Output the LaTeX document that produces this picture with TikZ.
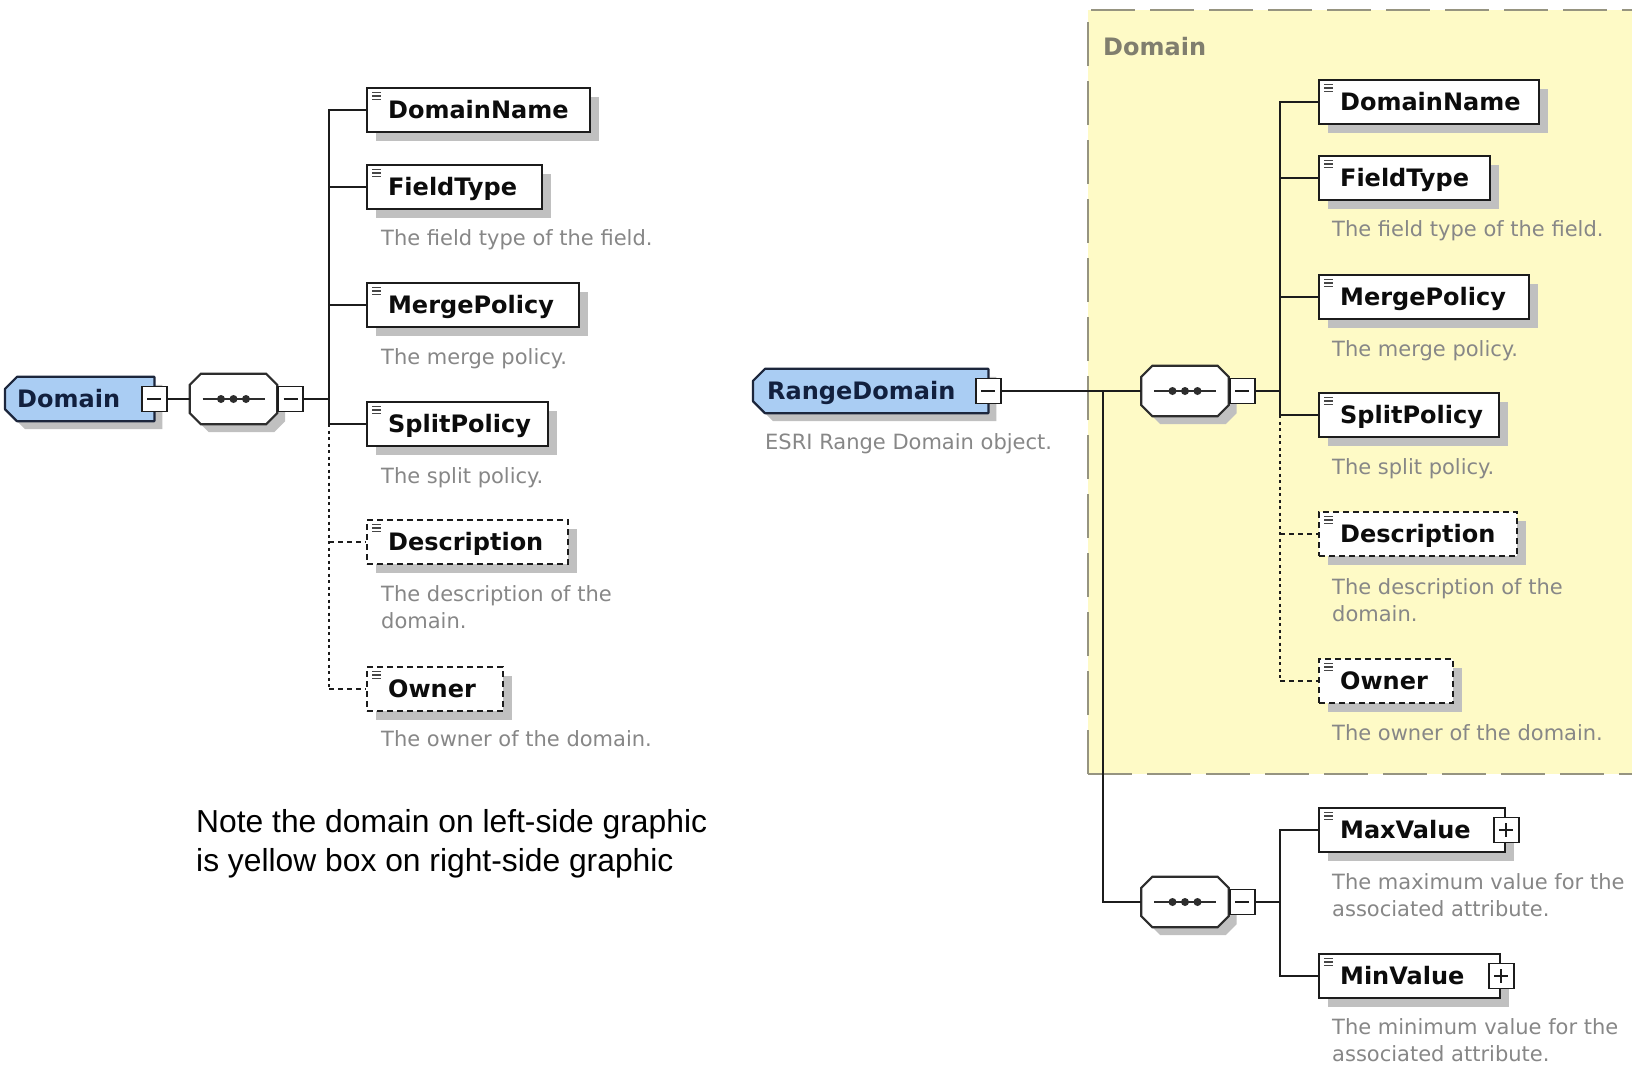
\documentclass[tikz,border=0pt]{standalone}
\usepackage{fontspec}
\newfontfamily\uifont{DejaVu Sans}
\newfontfamily\notefont{Liberation Sans}
\usetikzlibrary{calc,shadows}
\pgfdeclarelayer{panel}
\pgfdeclarelayer{shade}
\pgfdeclarelayer{back}
\pgfsetlayers{panel,shade,back,main}

\definecolor{inkline}{RGB}{28,28,28}
\definecolor{labelink}{RGB}{12,12,12}
\definecolor{iconink}{RGB}{70,70,70}
\definecolor{seqink}{RGB}{45,45,45}
\definecolor{shadowgray}{RGB}{192,192,192}
\definecolor{topfill}{RGB}{170,205,243}
\definecolor{topline}{RGB}{28,38,60}
\definecolor{toptext}{RGB}{18,32,62}
\definecolor{desctext}{RGB}{135,135,135}
\definecolor{panelfill}{RGB}{254,250,198}
\definecolor{paneledge}{RGB}{150,148,128}
\definecolor{paneltitle}{RGB}{128,126,110}

% label text set left-aligned in a box of fixed width
\newcommand\boxlabel[3][21]{\makebox[#2pt][l]{\hspace{#1pt}#3}}

\tikzset{
  lblfont/.style={font=\uifont\bfseries\fontsize{24}{28}\selectfont},
  elem/.style={rectangle, draw=inkline, fill=white, line width=2.2pt, inner sep=0pt,
    minimum height=44pt, text height=22.5pt, text depth=5pt, lblfont, text=labelink,
    anchor=west, general shadow={fill=shadowgray, draw=none, shadow xshift=9pt, shadow yshift=-9pt}},
  optelem/.style={elem, dash pattern=on 6pt off 4pt},
  topelem/.style={rectangle, draw=none, inner sep=0pt, minimum height=44pt,
    text height=22.5pt, text depth=5pt, lblfont, text=toptext, anchor=west},
  seqholder/.style={rectangle, draw=none, inner sep=0pt, minimum width=87pt, minimum height=50pt},
  toggle/.style={rectangle, draw=inkline, fill=white, line width=1.8pt, inner sep=0pt, minimum size=25pt},
  desc/.style={font=\uifont\fontsize{21}{27}\selectfont, text=desctext, inner sep=0pt,
    anchor=base west, align=left},
  conn/.style={draw=inkline, line width=2.2pt},
  dotconn/.style={conn, line width=2.6pt, dash pattern=on 3pt off 3.5pt},
  dashconn/.style={conn, dash pattern=on 5pt off 4pt},
}

% minus and plus marks inside a toggle box
\newcommand\minusmark[1]{\draw[inkline, line width=1.6pt] ($(#1.center)+(-7,0)$) -- ($(#1.center)+(7,0)$);}
\newcommand\plusmark[1]{\minusmark{#1}\draw[inkline, line width=1.6pt] ($(#1.center)+(0,-7)$) -- ($(#1.center)+(0,7)$);}

% small list icon in the top left corner of an element box
\newcommand\elemicon[1]{\foreach \k in {0,1,2}{\draw[iconink, line width=1.3pt] ($(#1.north west)+(6,5.5+3.5*\k)$) -- ++(9,0);}}

% top-level element: box with cut corners on the left
\newcommand\cutleft[1]{%
  \begin{pgfonlayer}{shade}
    \fill[shadowgray, transform canvas={shift={(8pt,-8pt)}}]
      ($(#1.north west)+(12,0)$) -- (#1.north east) -- (#1.south east) -- ($(#1.south west)+(12,0)$)
      -- ($(#1.south west)+(0,-12)$) -- ($(#1.north west)+(0,12)$) -- cycle;
  \end{pgfonlayer}
  \begin{pgfonlayer}{back}
    \filldraw[fill=topfill, draw=topline, line width=2.2pt, line join=round]
      ($(#1.north west)+(12,0)$) -- (#1.north east) -- (#1.south east) -- ($(#1.south west)+(12,0)$)
      -- ($(#1.south west)+(0,-12)$) -- ($(#1.north west)+(0,12)$) -- cycle;
  \end{pgfonlayer}}

% sequence compositor: octagon with a line of three dots
\newcommand\seqshape[1]{%
  \begin{pgfonlayer}{shade}
    \fill[shadowgray, transform canvas={shift={(8pt,-8pt)}}]
      ($(#1.north west)+(11,0)$) -- ($(#1.north east)+(-11,0)$) -- ($(#1.north east)+(0,11)$)
      -- ($(#1.south east)+(0,-11)$) -- ($(#1.south east)+(-11,0)$) -- ($(#1.south west)+(11,0)$)
      -- ($(#1.south west)+(0,-11)$) -- ($(#1.north west)+(0,11)$) -- cycle;
  \end{pgfonlayer}
  \begin{pgfonlayer}{back}
    \filldraw[fill=white, draw=seqink, line width=2.2pt]
      ($(#1.north west)+(11,0)$) -- ($(#1.north east)+(-11,0)$) -- ($(#1.north east)+(0,11)$)
      -- ($(#1.south east)+(0,-11)$) -- ($(#1.south east)+(-11,0)$) -- ($(#1.south west)+(11,0)$)
      -- ($(#1.south west)+(0,-11)$) -- ($(#1.north west)+(0,11)$) -- cycle;
  \end{pgfonlayer}
  \draw[seqink, line width=2pt] ($(#1.center)+(-31,0)$) -- ($(#1.center)+(31,0)$);
  \foreach \k in {-12.5,0,12.5}{\fill[seqink] ($(#1.center)+(\k,0)$) circle[radius=4pt];}}

\begin{document}
\begin{tikzpicture}[x=1pt,y=-1pt]
\useasboundingbox (0,0) rectangle (1632,1066);

% page and the yellow Domain panel
\begin{pgfonlayer}{panel}
  \fill[white] (0,0) rectangle (1632,1066);
  \fill[panelfill] (1088,10) rectangle (1640,774);
  \draw[paneledge, line width=2pt, dash pattern=on 44pt off 15pt] (1088,774) -- (1088,10) -- (1640,10);
  \draw[paneledge, line width=2pt, dash pattern=on 44pt off 15pt] (1088,774) -- (1640,774);
\end{pgfonlayer}
\node[lblfont, text=paneltitle, inner sep=0pt, anchor=base west] (paneltitle) at (1103,55) {Domain};

% ---------- left tree: Domain ----------
\node[topelem] (dom) at (5,399) {\boxlabel[12]{149}{Domain}};
\cutleft{dom}
\node[toggle] (dom-m) at (dom.east) {};
\minusmark{dom-m}
\node[seqholder] (seq1) at (233.5,399) {};
\seqshape{seq1}
\node[toggle, anchor=west] (seq1-m) at (seq1.east) {};
\minusmark{seq1-m}
\coordinate (bus1) at (329,399);

\node[elem] (dn1) at (366,110) {\boxlabel{223}{DomainName}};
\node[elem] (ft1) at (366,187) {\boxlabel{175}{FieldType}};
\node[elem] (mp1) at (366,305) {\boxlabel{212}{MergePolicy}};
\node[elem] (sp1) at (366,424) {\boxlabel{181}{SplitPolicy}};
\node[optelem] (de1) at (366,542) {\boxlabel{201}{Description}};
\node[optelem] (ow1) at (366,689) {\boxlabel{136}{Owner}};
\foreach \n in {dn1,ft1,mp1,sp1,de1,ow1}{\elemicon{\n}}

% two-line descriptions are placed by the baseline of their last line
\node[desc] (ft1-d) at (381,245) {The field type of the field.};
\node[desc] (mp1-d) at (381,364) {The merge policy.};
\node[desc] (sp1-d) at (381,483) {The split policy.};
\node[desc] (de1-d) at (381,628) {The description of the\\domain.};
\node[desc] (ow1-d) at (381,746) {The owner of the domain.};

\draw[conn] (dom-m.east) -- (seq1.west);
\draw[conn] (seq1-m.east) -- (bus1);
\draw[conn] (dn1.west) -- (bus1 |- dn1.west) -- (bus1 |- sp1.west) -- (sp1.west);
\draw[conn] (bus1 |- ft1.west) -- (ft1.west);
\draw[conn] (bus1 |- mp1.west) -- (mp1.west);
\draw[dotconn] (bus1 |- sp1.west) -- (bus1 |- ow1.west);
\draw[dashconn] (bus1 |- de1.west) -- (de1.west);
\draw[dashconn] (bus1 |- ow1.west) -- (ow1.west);

% note below the left tree
\node[font=\notefont\fontsize{31.8}{39}\selectfont, text=black, inner sep=0pt, anchor=base west, align=left]
  (note) at (196,871) {Note the domain on left-side graphic\\is yellow box on right-side graphic};

% ---------- right tree: RangeDomain ----------
\node[topelem] (rd) at (753,391) {\boxlabel[14]{235}{RangeDomain}};
\cutleft{rd}
\node[toggle] (rd-m) at (rd.east) {};
\minusmark{rd-m}
\node[desc] (rd-d) at (765,449) {ESRI Range Domain object.};
\coordinate (jn) at (1103,391);

\node[seqholder] (seq2) at (1185,391) {};
\seqshape{seq2}
\node[toggle, anchor=west] (seq2-m) at (seq2.east) {};
\minusmark{seq2-m}
\coordinate (bus2) at (1280,391);

\node[seqholder] (seq3) at (1185,902) {};
\seqshape{seq3}
\node[toggle, anchor=west] (seq3-m) at (seq3.east) {};
\minusmark{seq3-m}
\coordinate (bus3) at (1280,902);

\node[elem] (dn2) at (1318,102) {\boxlabel{220}{DomainName}};
\node[elem] (ft2) at (1318,178) {\boxlabel{171}{FieldType}};
\node[elem] (mp2) at (1318,297) {\boxlabel{210}{MergePolicy}};
\node[elem] (sp2) at (1318,415) {\boxlabel{180}{SplitPolicy}};
\node[optelem] (de2) at (1318,534) {\boxlabel{198}{Description}};
\node[optelem] (ow2) at (1318,681) {\boxlabel{134}{Owner}};
\node[elem] (mx) at (1318,830) {\boxlabel{186}{MaxValue}};
\node[elem] (mn) at (1318,976) {\boxlabel{181}{MinValue}};
\foreach \n in {dn2,ft2,mp2,sp2,de2,ow2,mx,mn}{\elemicon{\n}}
\node[toggle] (mx-p) at (mx.east) {};
\plusmark{mx-p}
\node[toggle] (mn-p) at (mn.east) {};
\plusmark{mn-p}

\node[desc] (ft2-d) at (1332,236) {The field type of the field.};
\node[desc] (mp2-d) at (1332,356) {The merge policy.};
\node[desc] (sp2-d) at (1332,474) {The split policy.};
\node[desc] (de2-d) at (1332,621) {The description of the\\domain.};
\node[desc] (ow2-d) at (1332,740) {The owner of the domain.};
\node[desc] (mx-d) at (1332,916) {The maximum value for the\\associated attribute.};
\node[desc] (mn-d) at (1332,1061) {The minimum value for the\\associated attribute.};

\draw[conn] (rd-m.east) -- (seq2.west);
\draw[conn] (jn) -- (jn |- seq3.west) -- (seq3.west);
\draw[conn] (seq2-m.east) -- (bus2);
\draw[conn] (dn2.west) -- (bus2 |- dn2.west) -- (bus2 |- sp2.west) -- (sp2.west);
\draw[conn] (bus2 |- ft2.west) -- (ft2.west);
\draw[conn] (bus2 |- mp2.west) -- (mp2.west);
\draw[dotconn] (bus2 |- sp2.west) -- (bus2 |- ow2.west);
\draw[dashconn] (bus2 |- de2.west) -- (de2.west);
\draw[dashconn] (bus2 |- ow2.west) -- (ow2.west);
\draw[conn] (seq3-m.east) -- (bus3);
\draw[conn] (mx.west) -- (bus3 |- mx.west) -- (bus3 |- mn.west) -- (mn.west);
\end{tikzpicture}
\end{document}
